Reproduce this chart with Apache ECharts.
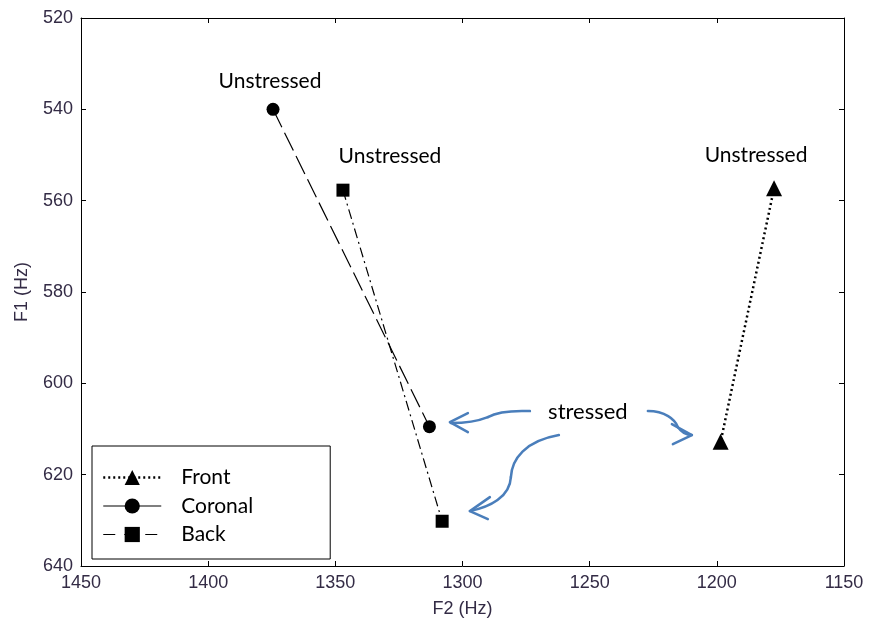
<!DOCTYPE html>
<html>
<head>
<meta charset="utf-8">
<script src="https://cdn.jsdelivr.net/npm/echarts@6/dist/echarts.min.js"></script>
<style>
  html, body { margin: 0; padding: 0; background: #fff; }
  #chart { width: 869px; height: 623px; }
</style>
</head>
<body>
<div id="chart"></div>
<script>
// Vowel formant means: F2 on x (Hz), F1 on y (Hz); first point unstressed, second stressed
const seriesNames = ['Front', 'Coronal', 'Back'];
const frontF2 = [1177.5, 1198.5];
const frontF1 = [557.3, 612.8];
const coronalF2 = [1374.5, 1313];
const coronalF1 = [540, 609.5];
const backF2 = [1347, 1308];
const backF1 = [557.7, 630.2];

const xTicks = [1150, 1200, 1250, 1300, 1350, 1400, 1450];
const yTicks = [520, 540, 560, 580, 600, 620, 640];

const pointLabel = 'Unstressed';
const annotationText = 'stressed';
// where the "stressed" note sits, in axis units (F2, F1)
const annotationAnchor = [1250.7, 606.3];

const TEXT_FONT = 'Lato';
const AXIS_FONT = 'Liberation Sans';
const AXIS_TEXT = '#332b45';
const ARROW_BLUE = '#4a7ebb';

function pairs(xs, ys) {
  return xs.map((x, i) => [x, ys[i]]);
}

// label offsets (px) for the unstressed point of each series
const labelOffsets = { Front: [-18, -33], Coronal: [-3, -28], Back: [47, -34] };

function buildData(name, xs, ys) {
  const pts = pairs(xs, ys);
  return pts.map((p, i) => {
    if (i !== 0) return { value: p };
    return {
      value: p,
      label: {
        show: true,
        formatter: pointLabel,
        position: 'inside',
        offset: labelOffsets[name],
        fontFamily: TEXT_FONT,
        fontSize: 21,
        color: '#000'
      }
    };
  });
}

const chart = echarts.init(document.getElementById('chart'), null, { renderer: 'canvas' });

const axisCommon = {
  type: 'value',
  inverse: true,
  axisLine: { show: true, onZero: false, lineStyle: { color: '#000', width: 1 } },
  axisTick: { show: true, inside: true, length: 5, lineStyle: { color: '#000' } },
  splitLine: { show: false }
};

const plainNumber = v => String(v);

const option = {
  backgroundColor: '#fff',
  animation: false,
  grid: { left: 81, right: 25, top: 18, bottom: 56, containLabel: false },
  xAxis: [
    Object.assign({}, axisCommon, {
      position: 'bottom',
      min: xTicks[0], max: xTicks[xTicks.length - 1], interval: 50,
      name: 'F2 (Hz)', nameLocation: 'middle', nameGap: 34,
      nameTextStyle: { fontFamily: AXIS_FONT, fontSize: 18, color: AXIS_TEXT },
      axisLabel: { show: true, margin: 8, fontFamily: AXIS_FONT, fontSize: 18, color: AXIS_TEXT, formatter: plainNumber }
    }),
    Object.assign({}, axisCommon, {
      position: 'top',
      min: xTicks[0], max: xTicks[xTicks.length - 1], interval: 50,
      axisLabel: { show: false }
    })
  ],
  yAxis: [
    Object.assign({}, axisCommon, {
      position: 'left',
      min: yTicks[0], max: yTicks[yTicks.length - 1], interval: 20,
      name: 'F1 (Hz)', nameLocation: 'middle', nameGap: 50,
      nameTextStyle: { fontFamily: AXIS_FONT, fontSize: 18, color: AXIS_TEXT },
      axisLabel: { show: true, margin: 8, fontFamily: AXIS_FONT, fontSize: 18, color: AXIS_TEXT, formatter: plainNumber }
    }),
    Object.assign({}, axisCommon, {
      position: 'right',
      min: yTicks[0], max: yTicks[yTicks.length - 1], interval: 20,
      axisLabel: { show: false }
    })
  ],
  legend: {
    orient: 'vertical',
    left: 92,
    top: 446,
    padding: [21, 77, 14, 10],
    itemWidth: 58,
    itemHeight: 19,
    itemGap: 7.5,
    backgroundColor: '#fff',
    borderColor: '#000',
    borderWidth: 1,
    borderRadius: 0,
    textStyle: {
      fontFamily: TEXT_FONT, fontSize: 21, lineHeight: 21, color: '#000',
      padding: [0, 0, 0, 15]
    },
    data: [
      { name: 'Front', lineStyle: { type: [2, 3], width: 2.5 } },
      { name: 'Coronal', lineStyle: { type: 'solid', width: 1.2 } },
      { name: 'Back', lineStyle: { type: [12, 9], width: 1.2 } }
    ]
  },
  series: [
    {
      name: seriesNames[0], type: 'line',
      data: buildData('Front', frontF2, frontF1),
      symbol: 'triangle', symbolSize: 16,
      itemStyle: { color: '#000' },
      lineStyle: { color: '#000', width: 2.5, type: [2, 3] },
      z: 3
    },
    {
      name: seriesNames[1], type: 'line',
      data: buildData('Coronal', coronalF2, coronalF1),
      symbol: 'circle', symbolSize: 13,
      itemStyle: { color: '#000' },
      lineStyle: { color: '#000', width: 1.2, type: [20, 6] },
      z: 3
    },
    {
      name: seriesNames[2], type: 'line',
      data: buildData('Back', backF2, backF1),
      symbol: 'rect', symbolSize: 13,
      itemStyle: { color: '#000' },
      lineStyle: { color: '#000', width: 1.2, type: [10, 4, 2, 4] },
      z: 3
    }
  ]
};

chart.setOption(option);

// Blue callout: the word "stressed" with curved arrows pointing at the stressed points.
// Geometry is in pixels relative to the note's anchor.
function drawCallout() {
  const c = chart.convertToPixel({ gridIndex: 0 }, annotationAnchor);
  const stroke = { stroke: ARROW_BLUE, lineWidth: 2.5, fill: null, lineCap: 'round', lineJoin: 'round' };
  const curves = [
    // towards Coronal
    [-58, -1, -83, -2, -93, 1, -100, 5],
    [-100, 5, -110, 9, -123, 11, -137, 11],
    // towards Back
    [-29, 23, -63, 29, -76, 47, -77, 65],
    [-77, 65, -78, 85, -98, 95, -118, 99],
    // towards Front
    [60, -1, 77, -1, 87, 7, 90, 15],
    [90, 15, 94, 21, 100, 23, 104, 23]
  ];
  const heads = [
    [[-120, 1], [-138, 10], [-120, 20]],
    [[-98, 85], [-118, 99], [-100, 107]],
    [[84, 12], [104, 23], [85, 32]]
  ];
  const children = [];
  curves.forEach(b => {
    children.push({
      type: 'bezierCurve',
      shape: { x1: b[0], y1: b[1], cpx1: b[2], cpy1: b[3], cpx2: b[4], cpy2: b[5], x2: b[6], y2: b[7] },
      style: stroke
    });
  });
  heads.forEach(pts => {
    children.push({ type: 'polyline', shape: { points: pts }, style: stroke });
  });
  children.push({
    type: 'text',
    style: {
      text: annotationText,
      x: 0, y: 0,
      align: 'center', verticalAlign: 'middle',
      fontFamily: TEXT_FONT, fontSize: 22, fill: '#000'
    }
  });
  chart.setOption({
    graphic: [{ type: 'group', id: 'callout', x: c[0], y: c[1], z: 10, children: children }]
  });
}
drawCallout();
</script>
</body>
</html>
